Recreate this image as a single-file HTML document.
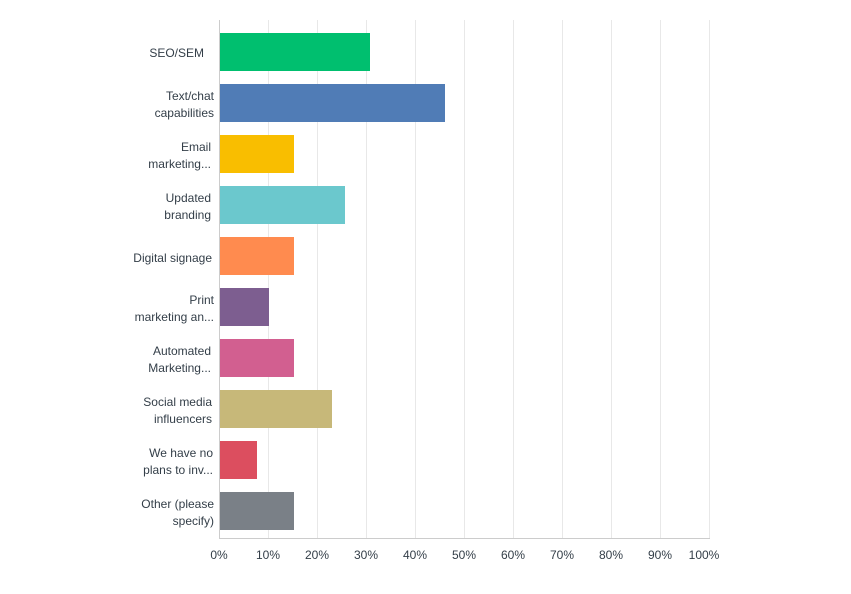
<!DOCTYPE html>
<html><head><meta charset="utf-8"><style>
body{margin:0;background:#fff;}
svg text{font-family:"Liberation Sans",sans-serif;font-size:12px;fill:#333e48;}
</style></head><body>
<svg width="851" height="589" xmlns="http://www.w3.org/2000/svg">
<g stroke="#e8e8e8" stroke-width="1">
<line x1="268.5" y1="20" x2="268.5" y2="538"/><line x1="317.5" y1="20" x2="317.5" y2="538"/>
<line x1="366.5" y1="20" x2="366.5" y2="538"/><line x1="415.5" y1="20" x2="415.5" y2="538"/>
<line x1="464.5" y1="20" x2="464.5" y2="538"/><line x1="513.5" y1="20" x2="513.5" y2="538"/>
<line x1="562.5" y1="20" x2="562.5" y2="538"/><line x1="611.5" y1="20" x2="611.5" y2="538"/>
<line x1="660.5" y1="20" x2="660.5" y2="538"/><line x1="709.5" y1="20" x2="709.5" y2="538"/>
</g>
<rect x="219" y="33" width="151" height="38" fill="#00bf6f"/>
<rect x="219" y="84" width="226" height="38" fill="#507cb6"/>
<rect x="219" y="135" width="75" height="38" fill="#f9be00"/>
<rect x="219" y="186" width="126" height="38" fill="#6bc8cd"/>
<rect x="219" y="237" width="75" height="38" fill="#ff8b4f"/>
<rect x="219" y="288" width="50" height="38" fill="#7d5e90"/>
<rect x="219" y="339" width="75" height="38" fill="#d25f90"/>
<rect x="219" y="390" width="113" height="38" fill="#c7b879"/>
<rect x="219" y="441" width="38" height="38" fill="#dc4e5f"/>
<rect x="219" y="492" width="75" height="38" fill="#7a8087"/>
<line x1="219.5" y1="20" x2="219.5" y2="538" stroke="#ccc"/>
<line x1="219" y1="538.5" x2="710" y2="538.5" stroke="#ccc"/>
<g text-anchor="end">
<text x="204" y="57">SEO/SEM</text>
<text x="214" y="100">Text/chat</text><text x="214" y="117">capabilities</text>
<text x="211" y="151">Email</text><text x="211" y="168">marketing...</text>
<text x="211" y="202">Updated</text><text x="211" y="219">branding</text>
<text x="212" y="262">Digital signage</text>
<text x="214" y="304">Print</text><text x="214" y="321">marketing an...</text>
<text x="211" y="355">Automated</text><text x="211" y="372">Marketing...</text>
<text x="212" y="406">Social media</text><text x="212" y="423">influencers</text>
<text x="213" y="457">We have no</text><text x="213" y="474">plans to inv...</text>
<text x="214" y="508">Other (please</text><text x="214" y="525">specify)</text>
</g>
<g text-anchor="middle">
<text x="219" y="559">0%</text><text x="268" y="559">10%</text><text x="317" y="559">20%</text>
<text x="366" y="559">30%</text><text x="415" y="559">40%</text><text x="464" y="559">50%</text>
<text x="513" y="559">60%</text><text x="562" y="559">70%</text><text x="611" y="559">80%</text>
<text x="660" y="559">90%</text><text x="704" y="559">100%</text>
</g>
</svg>
</body></html>
